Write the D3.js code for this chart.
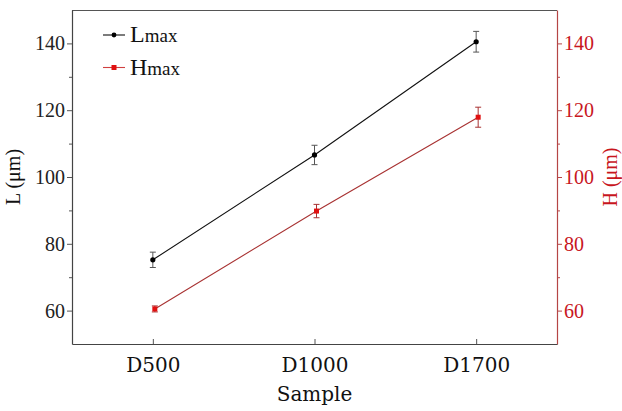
<!DOCTYPE html>
<html>
<head>
<meta charset="utf-8">
<script src="https://cdn.jsdelivr.net/npm/d3@7"></script>
<style>
  body { margin: 0; background: #fff; }
  svg { display: block; }
</style>
</head>
<body>
<div id="chart"></div>
<script>
// data
var samples = ["D500", "D1000", "D1700"];
var lMax = [75.2, 106.6, 140.5];
var lErr = [2.3, 2.9, 3.1];
var hMax = [60.5, 89.8, 117.9];
var hErr = [0.9, 2.0, 3.0];
var yTicks = [60, 80, 100, 120, 140];
var yMinor = [70, 90, 110, 130];

var W = 622, H = 411;
var margin = { top: 10, right: 65, bottom: 67, left: 72 },
    width = W - margin.left - margin.right,
    height = H - margin.top - margin.bottom;

var serif = "'Liberation Serif', 'Times New Roman', serif";
var redAxis = "#b54545", redText = "#c8161d", redLine = "#a83232", redMark = "#e01010";

var svg = d3.select("#chart").append("svg")
    .attr("width", W).attr("height", H)
    .append("g")
    .attr("transform", "translate(" + margin.left + "," + margin.top + ")");

var x = d3.scaleLinear().domain([-0.5, 2.5]).range([0, width]);
var yL = d3.scaleLinear().domain([50, 150]).range([height, 0]);
var yH = d3.scaleLinear().domain([50, 150]).range([height, 0]);

// top frame
svg.append("line").attr("x1", 0).attr("x2", width).attr("y1", 0.5).attr("y2", 0.5)
    .attr("stroke", "#555").attr("stroke-width", 1.2);

// left axis
var gl = svg.append("g").call(d3.axisLeft(yL).tickValues(yTicks).tickSize(5).tickSizeOuter(0).tickPadding(2));
var glm = svg.append("g").call(d3.axisLeft(yL).tickValues(yMinor).tickSize(3).tickFormat(""));
glm.select(".domain").remove();
glm.selectAll("line").attr("stroke", "#555");
gl.selectAll("text").attr("font-family", serif).attr("font-size", 20).attr("fill", "#222");
gl.selectAll("line").attr("stroke", "#555");
gl.select(".domain").attr("stroke", "#444").attr("stroke-width", 1.2);

// right axis
var gr = svg.append("g").attr("transform", "translate(" + width + ",0)")
    .call(d3.axisRight(yH).tickValues(yTicks).tickSize(5).tickSizeOuter(0).tickPadding(2));
var grm = svg.append("g").attr("transform", "translate(" + width + ",0)")
    .call(d3.axisRight(yH).tickValues(yMinor).tickSize(3).tickFormat(""));
grm.select(".domain").remove();
grm.selectAll("line").attr("stroke", redAxis);
gr.selectAll("text").attr("font-family", serif).attr("font-size", 20).attr("fill", redText);
gr.selectAll("line").attr("stroke", redAxis);
gr.select(".domain").attr("stroke", redAxis).attr("stroke-width", 1.2);

// bottom axis, ticks point inward
var gb = svg.append("g").attr("transform", "translate(0," + height + ")")
    .call(d3.axisBottom(x).tickValues([0, 1, 2]).tickSizeInner(-5).tickSizeOuter(0)
        .tickPadding(14).tickFormat(function (d) { return samples[d]; }));
gb.selectAll("text").attr("font-family", "'DejaVu Serif', serif").attr("font-size", 20).attr("fill", "#111");
gb.selectAll("line").attr("stroke", "#555");
gb.select(".domain").attr("stroke", "#444").attr("stroke-width", 1.2);

// axis titles
svg.append("text").attr("transform", "translate(" + (-52) + "," + (height / 2) + ") rotate(-90)")
    .attr("text-anchor", "middle").attr("font-family", serif).attr("font-size", 20)
    .attr("fill", "#111").text("L (μm)");
svg.append("text").attr("transform", "translate(" + (width + 60) + "," + (height / 2) + ") rotate(-90)")
    .attr("text-anchor", "middle").attr("font-family", serif).attr("font-size", 20)
    .attr("fill", redText).text("H (μm)");
svg.append("text").attr("x", x(1)).attr("y", height + 57)
    .attr("text-anchor", "middle").attr("font-family", "'DejaVu Serif', serif").attr("font-size", 20)
    .attr("fill", "#111").text("Sample");

function drawSeries(vals, errs, yS, lineColor, errColor, markColor, shape, dx) {
    var g = svg.append("g").attr("transform", "translate(" + dx + ",0)");
    var pts = vals.map(function (v, i) { return { i: i, v: v, e: errs[i] }; });
    g.append("path").datum(pts)
        .attr("fill", "none").attr("stroke", lineColor).attr("stroke-width", 1.1)
        .attr("d", d3.line().x(function (d) { return x(d.i); }).y(function (d) { return yS(d.v); }));
    var eb = g.selectAll(".eb").data(pts).enter().append("g").attr("stroke", errColor).attr("stroke-width", 1);
    eb.append("line").attr("x1", function (d) { return x(d.i); }).attr("x2", function (d) { return x(d.i); })
        .attr("y1", function (d) { return yS(d.v - d.e); }).attr("y2", function (d) { return yS(d.v + d.e); });
    [-1, 1].forEach(function (s) {
        eb.append("line").attr("x1", function (d) { return x(d.i) - 3; }).attr("x2", function (d) { return x(d.i) + 3; })
            .attr("y1", function (d) { return yS(d.v + s * d.e); }).attr("y2", function (d) { return yS(d.v + s * d.e); });
    });
    if (shape === "circle") {
        g.selectAll(".m").data(pts).enter().append("circle")
            .attr("cx", function (d) { return x(d.i); }).attr("cy", function (d) { return yS(d.v); })
            .attr("r", 2.6).attr("fill", markColor);
    } else {
        g.selectAll(".m").data(pts).enter().append("rect")
            .attr("x", function (d) { return x(d.i) - 2.5; }).attr("y", function (d) { return yS(d.v) - 2.5; })
            .attr("width", 5).attr("height", 5).attr("fill", markColor);
    }
}

drawSeries(lMax, lErr, yL, "#111", "#555", "#000", "circle", 0);
drawSeries(hMax, hErr, yH, redLine, redLine, redMark, "rect", 2);

// legend
var legend = [
    { main: "L", sub: "max", color: "#111", mark: "#000", shape: "circle" },
    { main: "H", sub: "max", color: "#d04040", mark: redMark, shape: "rect" }
];
var lg = svg.selectAll(".lg").data(legend).enter().append("g")
    .attr("transform", function (d, i) { return "translate(31," + (25 + i * 32.5) + ")"; });
lg.append("line").attr("x1", 0).attr("x2", 22).attr("stroke", function (d) { return d.color; }).attr("stroke-width", 1.1);
lg.each(function (d) {
    var s = d3.select(this);
    if (d.shape === "circle") s.append("circle").attr("cx", 11).attr("r", 2.4).attr("fill", d.mark);
    else s.append("rect").attr("x", 8.5).attr("y", -2.5).attr("width", 5).attr("height", 5).attr("fill", d.mark);
});
var lt = lg.append("text").attr("x", 27).attr("y", 7).attr("font-family", serif).attr("fill", "#111");
lt.append("tspan").attr("font-size", 24).text(function (d) { return d.main; });
lt.append("tspan").attr("font-size", 19).text(function (d) { return d.sub; });
</script>
</body>
</html>
